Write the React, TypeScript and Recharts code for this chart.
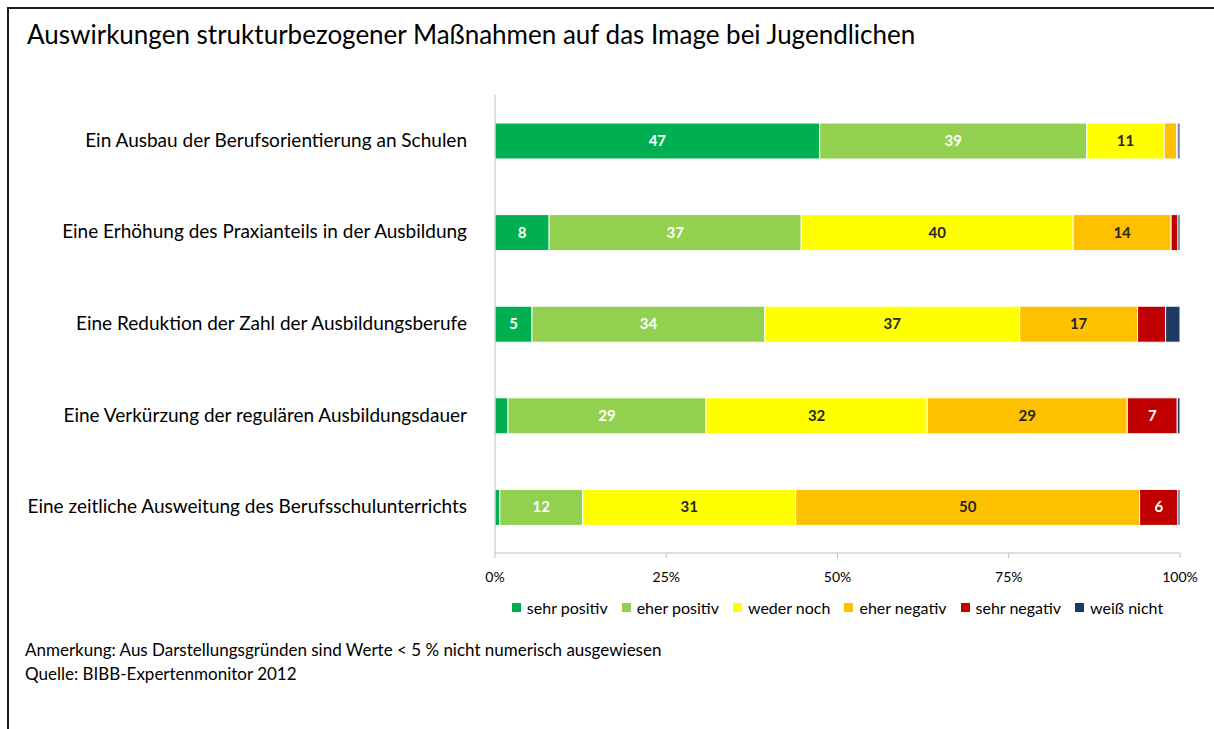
import React from "react";
import { Bar, BarChart, LabelList, XAxis, YAxis } from "recharts";

const categories = [
  "Ein Ausbau der Berufsorientierung an Schulen",
  "Eine Erhöhung des Praxianteils in der Ausbildung",
  "Eine Reduktion der Zahl der Ausbildungsberufe",
  "Eine Verkürzung der regulären Ausbildungsdauer",
  "Eine zeitliche Ausweitung des Berufsschulunterrichts",
];

const sehrPositiv = [47.4, 7.9, 5.4, 1.9, 0.7];
const eherPositiv = [39, 36.8, 34, 28.9, 12.1];
const wederNoch = [11.3, 39.7, 37.2, 32.3, 31.1];
const eherNegativ = [1.8, 14.3, 17.2, 29.2, 50.2];
const sehrNegativ = [0.2, 1.0, 4.1, 7.3, 5.6];
const weissNicht = [0.3, 0.3, 2.1, 0.4, 0.3];

const xTicks = [0, 25, 50, 75, 100];

const series = [
  { key: "sp", name: "sehr positiv", values: sehrPositiv, color: "#00B050", label: "#ffffff" },
  { key: "ep", name: "eher positiv", values: eherPositiv, color: "#92D050", label: "#ffffff" },
  { key: "wn", name: "weder noch", values: wederNoch, color: "#FFFF00", label: "#262626" },
  { key: "en", name: "eher negativ", values: eherNegativ, color: "#FFC000", label: "#262626" },
  { key: "sn", name: "sehr negativ", values: sehrNegativ, color: "#C00000", label: "#ffffff" },
  { key: "wk", name: "weiß nicht", values: weissNicht, color: "#1F3864", label: "#ffffff" },
];

const data = categories.map((cat, i) => {
  const row: Record<string, string | number> = { cat };
  series.forEach((s) => {
    row[s.key] = s.values[i];
  });
  return row;
});

const font = "Lato, 'Open Sans', sans-serif";

function CategoryTick(props: any) {
  const { x, y, payload } = props;
  return (
    <text x={x - 20} y={y} dy={6} textAnchor="end" fontSize={19} fill="#000" fontFamily={font}>
      {payload.value}
    </text>
  );
}

function makeLabel(color: string) {
  return (props: any) => {
    const { x, y, width, height, value } = props;
    if (value < 5) return null;
    return (
      <text
        x={x + width / 2}
        y={y + height / 2}
        dy={5}
        textAnchor="middle"
        fontSize={15}
        fontWeight="bold"
        fill={color}
        fontFamily={font}
      >
        {Math.round(value)}
      </text>
    );
  };
}

export default function App() {
  return (
    <div style={{ position: "absolute", left: 0, top: 0, width: 1214, height: 729, background: "#fff", fontFamily: font }}>
      <div
        style={{
          position: "absolute",
          left: 7,
          top: 7,
          right: 0,
          bottom: 0,
          borderTop: "2px solid #1a1a1a",
          borderLeft: "2px solid #1a1a1a",
        }}
      />
      <div style={{ position: "absolute", left: 27, top: 18, fontSize: 26, color: "#000", whiteSpace: "nowrap" }}>
        Auswirkungen strukturbezogener Maßnahmen auf das Image bei Jugendlichen
      </div>
      <div style={{ position: "absolute", left: 0, top: 0 }}>
        <BarChart
          width={1214}
          height={729}
          data={data}
          layout="vertical"
          margin={{ top: 95, right: 34, bottom: 146, left: 0 }}
          barSize={36}
        >
          <XAxis
            type="number"
            domain={[0, 100]}
            ticks={xTicks}
            allowDataOverflow
            height={30}
            tickFormatter={(v) => `${v}%`}
            stroke="#bfbfbf"
            tickSize={5}
            tick={{ fontSize: 14, fill: "#000", fontFamily: font, dy: 12 }}
          />
          <YAxis type="category" dataKey="cat" width={495} stroke="#bfbfbf" tickLine={false} tick={<CategoryTick />} />
          {series.map((s) => (
            <Bar
              key={s.key}
              dataKey={s.key}
              name={s.name}
              stackId="a"
              fill={s.color}
              stroke="#ffffff"
              strokeWidth={1}
              isAnimationActive={false}
            >
              <LabelList dataKey={s.key} content={makeLabel(s.label)} />
            </Bar>
          ))}
        </BarChart>
      </div>
      <div
        style={{
          position: "absolute",
          left: 495,
          top: 598,
          width: 685,
          display: "flex",
          justifyContent: "center",
          fontSize: 16,
          color: "#000",
          whiteSpace: "nowrap",
        }}
      >
        {series.map((s, i) => (
          <span
            key={s.key}
            style={{ display: "inline-flex", alignItems: "center", marginRight: i === series.length - 1 ? 0 : 14 }}
          >
            <span style={{ width: 9, height: 9, background: s.color, marginRight: 6, display: "inline-block" }} />
            {s.name}
          </span>
        ))}
      </div>
      <div style={{ position: "absolute", left: 25, top: 638, fontSize: 17, lineHeight: "24px", color: "#000", whiteSpace: "nowrap" }}>
        <div>Anmerkung: Aus Darstellungsgründen sind Werte &lt; 5 % nicht numerisch ausgewiesen</div>
        <div>Quelle: BIBB-Expertenmonitor 2012</div>
      </div>
    </div>
  );
}
